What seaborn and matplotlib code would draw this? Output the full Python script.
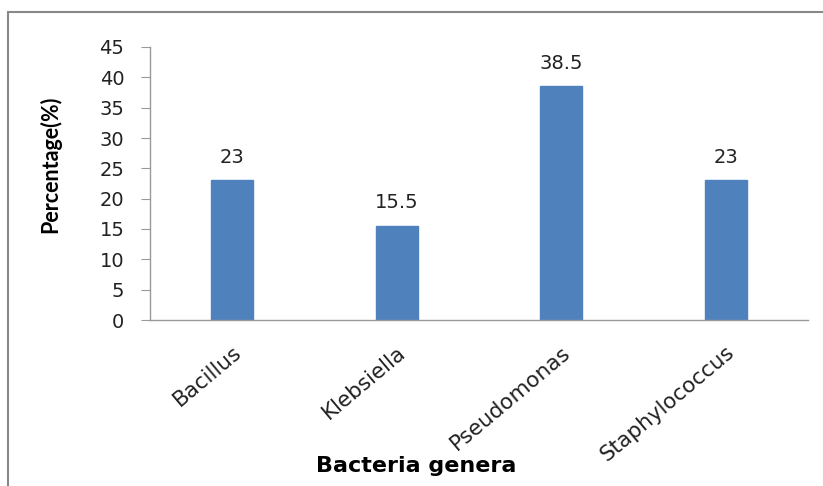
import matplotlib
matplotlib.use("Agg")
import matplotlib.pyplot as plt
import seaborn as sns
import pandas as pd
from matplotlib.patches import Rectangle

categories = ["Bacillus", "Klebsiella", "Pseudomonas", "Staphylococcus"]
values = [23, 15.5, 38.5, 23]
value_labels = ["23", "15.5", "38.5", "23"]
yticks = [0, 5, 10, 15, 20, 25, 30, 35, 40, 45]

sns.set_style("white")
plt.rcParams['font.family'] = ['DejaVu Sans']

df = pd.DataFrame({"genus": categories, "pct": values})

fig = plt.figure(figsize=(8.23, 4.86), dpi=100)
ax = fig.add_axes([150/823, 1-320/486, 658/823, 273/486])
sns.barplot(data=df, x="genus", y="pct", color="#4F81BD", width=0.255,
            saturation=1, ax=ax, edgecolor="#4F81BD")

ax.set_ylim(0, 45)
ax.set_yticks(yticks)
ax.set_xlim(-0.5, 3.5)
for i, (v, lab) in enumerate(zip(values, value_labels)):
    ax.text(i, v + 2.9, lab, ha="center", va="baseline", fontsize=14, color="#222222")

ax.set_xticks(range(len(categories)))
ax.set_xticklabels(categories, rotation=40, ha="right", rotation_mode="anchor",
                   fontsize=15.5, color="#222222")
ax.tick_params(axis="x", length=0, pad=16)
ax.tick_params(axis="y", length=6.5, color="#999999", direction="out", left=True,
               labelsize=14, labelcolor="#222222", pad=12)
for s in ["top", "right"]:
    ax.spines[s].set_visible(False)
for s in ["left", "bottom"]:
    ax.spines[s].set_color("#999999")
    ax.spines[s].set_linewidth(1)

ax.set_xlabel("")
ax.set_ylabel("")
fig.text(50/823, 1-164/486, "Percentage(%)", ha="center", va="center", rotation=90,
         fontsize=15.5, fontweight="bold", color="black", family=["Lato"])
fig.text(416/823, 1-466/486, "Bacteria genera", ha="center", va="center",
         fontsize=16, fontweight="bold", color="black")

fig.patches.append(Rectangle((8/823, -0.1), 1.2, (1-12/486) + 0.1, transform=fig.transFigure,
                             fill=False, edgecolor="#888888", linewidth=1.5))

fig.savefig("out.png", dpi=100)
